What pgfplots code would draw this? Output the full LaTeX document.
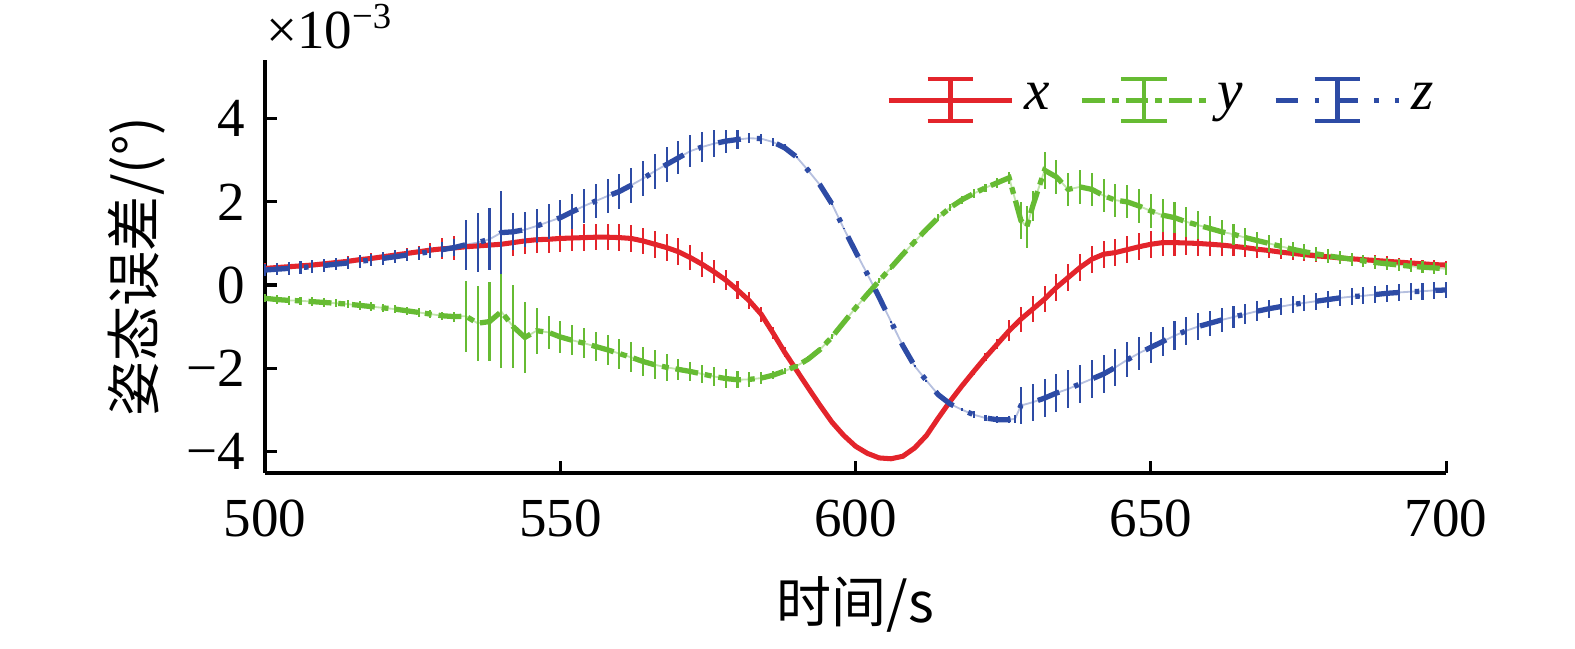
\documentclass[border=0pt]{standalone}
\usepackage{pgfplots}
\pgfplotsset{compat=1.18}
\usepackage{pgfplotstable}
\usepackage{fontspec}
\setmainfont{Liberation Serif}
\newfontfamily\cjk{Noto Sans CJK SC}
\definecolor{cx}{RGB}{227,36,43}
\definecolor{cy}{RGB}{102,187,51}
\definecolor{cz}{RGB}{45,75,165}

\pgfplotstableread{
t v e
500 0.40 0.12
502 0.42 0.12
504 0.44 0.12
506 0.46 0.12
508 0.48 0.12
510 0.51 0.12
512 0.54 0.12
514 0.57 0.12
516 0.61 0.12
518 0.64 0.12
520 0.68 0.12
522 0.72 0.12
524 0.76 0.12
526 0.80 0.14
528 0.84 0.16
530 0.87 0.25
532 0.89 0.30
534 0.92 0.32
536 0.94 0.32
538 0.96 0.32
540 0.98 0.32
542 1.02 0.32
544 1.06 0.32
546 1.09 0.32
548 1.10 0.32
550 1.12 0.32
552 1.13 0.32
554 1.14 0.32
556 1.15 0.32
558 1.15 0.32
560 1.14 0.32
562 1.12 0.32
564 1.06 0.32
566 0.98 0.32
568 0.90 0.32
570 0.80 0.32
572 0.66 0.30
574 0.50 0.30
576 0.32 0.28
578 0.12 0.25
580 -0.12 0.22
582 -0.38 0.20
584 -0.70 0.18
586 -1.15 0.15
588 -1.62 0.12
590 -2.05 0.08
592 -2.48 0.05
594 -2.90 0.04
596 -3.30 0.04
598 -3.62 0.04
600 -3.88 0.04
602 -4.05 0.04
604 -4.16 0.04
606 -4.18 0.04
608 -4.12 0.04
610 -3.92 0.04
612 -3.62 0.05
614 -3.20 0.06
616 -2.80 0.06
618 -2.43 0.08
620 -2.08 0.08
622 -1.74 0.10
624 -1.42 0.12
626 -1.10 0.25
628 -0.82 0.30
630 -0.58 0.32
632 -0.34 0.32
634 -0.06 0.32
636 0.18 0.32
638 0.42 0.32
640 0.62 0.32
642 0.74 0.32
644 0.78 0.32
646 0.85 0.32
648 0.92 0.32
650 0.98 0.32
652 1.02 0.32
654 1.02 0.32
656 1.01 0.30
658 1.00 0.30
660 0.98 0.28
662 0.96 0.26
664 0.93 0.24
666 0.90 0.22
668 0.86 0.20
670 0.83 0.18
672 0.79 0.16
674 0.76 0.15
676 0.73 0.15
678 0.70 0.14
680 0.68 0.14
682 0.65 0.13
684 0.63 0.13
686 0.61 0.12
688 0.59 0.12
690 0.57 0.12
692 0.55 0.11
694 0.53 0.11
696 0.51 0.10
698 0.49 0.10
700 0.48 0.10
}\tabx

\pgfplotstableread{
t v e
500 -0.32 0.10
502 -0.35 0.10
504 -0.37 0.10
506 -0.38 0.10
508 -0.40 0.10
510 -0.42 0.10
512 -0.44 0.10
514 -0.46 0.10
516 -0.49 0.10
518 -0.52 0.10
520 -0.55 0.10
522 -0.58 0.10
524 -0.62 0.10
526 -0.66 0.10
528 -0.70 0.10
530 -0.74 0.10
532 -0.76 0.12
534 -0.75 0.85
536 -0.92 0.90
538 -0.88 0.95
540 -0.64 1.35
542 -1.00 1.00
544 -1.26 0.85
546 -1.10 0.55
548 -1.14 0.40
550 -1.25 0.38
552 -1.33 0.36
554 -1.40 0.36
556 -1.48 0.36
558 -1.56 0.36
560 -1.65 0.36
562 -1.74 0.36
564 -1.84 0.36
566 -1.92 0.35
568 -1.98 0.32
570 -2.03 0.25
572 -2.08 0.22
574 -2.14 0.22
576 -2.20 0.22
578 -2.25 0.22
580 -2.28 0.20
582 -2.27 0.18
584 -2.24 0.15
586 -2.17 0.10
588 -2.07 0.08
590 -1.95 0.06
592 -1.78 0.06
594 -1.55 0.06
596 -1.25 0.06
598 -0.90 0.06
600 -0.55 0.06
602 -0.22 0.06
604 0.10 0.06
606 0.42 0.06
608 0.74 0.06
610 1.04 0.06
612 1.34 0.06
614 1.62 0.08
616 1.86 0.08
618 2.05 0.10
620 2.20 0.10
622 2.34 0.10
624 2.46 0.12
626 2.58 0.15
628 1.55 0.45
629 1.40 0.50
630 1.90 0.35
632 2.76 0.45
634 2.60 0.40
636 2.30 0.40
638 2.36 0.40
640 2.30 0.40
642 2.15 0.40
644 2.04 0.40
646 2.00 0.40
648 1.90 0.40
650 1.78 0.40
652 1.68 0.40
654 1.62 0.38
656 1.52 0.36
658 1.44 0.34
660 1.36 0.30
662 1.28 0.28
664 1.22 0.25
666 1.14 0.22
668 1.07 0.20
670 1.00 0.20
672 0.93 0.20
674 0.86 0.18
676 0.80 0.18
678 0.75 0.17
680 0.70 0.17
682 0.66 0.16
684 0.62 0.16
686 0.58 0.15
688 0.54 0.15
690 0.51 0.15
692 0.48 0.14
694 0.45 0.14
696 0.43 0.14
698 0.41 0.14
700 0.39 0.14
}\taby

\pgfplotstableread{
t v e
500 0.36 0.15
502 0.38 0.15
504 0.40 0.15
506 0.42 0.15
508 0.44 0.15
510 0.47 0.15
512 0.50 0.15
514 0.53 0.15
516 0.57 0.15
518 0.60 0.15
520 0.64 0.15
522 0.68 0.15
524 0.72 0.15
526 0.76 0.15
528 0.80 0.15
530 0.85 0.18
532 0.90 0.20
534 0.97 0.60
536 1.02 0.70
538 1.10 0.75
540 1.26 1.00
542 1.28 0.45
544 1.33 0.42
546 1.42 0.42
548 1.52 0.42
550 1.62 0.42
552 1.76 0.42
554 1.90 0.42
556 2.02 0.42
558 2.14 0.42
560 2.25 0.42
562 2.40 0.42
564 2.56 0.42
566 2.74 0.42
568 2.90 0.42
570 3.06 0.40
572 3.22 0.38
574 3.32 0.35
576 3.40 0.32
578 3.46 0.28
580 3.50 0.22
582 3.53 0.12
584 3.52 0.12
586 3.44 0.10
588 3.30 0.08
590 3.08 0.03
592 2.75 0.02
594 2.40 0.02
596 1.95 0.02
598 1.36 0.02
600 0.80 0.02
602 0.26 0.02
604 -0.30 0.02
606 -0.88 0.02
608 -1.46 0.02
610 -1.95 0.02
612 -2.30 0.02
614 -2.64 0.02
616 -2.86 0.02
618 -3.00 0.04
620 -3.12 0.08
622 -3.20 0.08
624 -3.24 0.08
626 -3.24 0.08
627 -3.22 0.10
628 -2.90 0.45
630 -2.82 0.45
632 -2.72 0.45
634 -2.60 0.45
636 -2.50 0.45
638 -2.38 0.45
640 -2.26 0.45
642 -2.14 0.45
644 -1.98 0.45
646 -1.80 0.42
648 -1.64 0.40
650 -1.50 0.38
652 -1.36 0.36
654 -1.22 0.35
656 -1.10 0.34
658 -1.00 0.32
660 -0.92 0.30
662 -0.84 0.28
664 -0.77 0.26
666 -0.70 0.25
668 -0.63 0.24
670 -0.57 0.22
672 -0.52 0.21
674 -0.47 0.20
676 -0.43 0.20
678 -0.39 0.20
680 -0.35 0.20
682 -0.31 0.20
684 -0.28 0.20
686 -0.26 0.20
688 -0.23 0.20
690 -0.20 0.20
692 -0.18 0.20
694 -0.16 0.20
696 -0.15 0.20
698 -0.13 0.20
700 -0.12 0.20
}\tabz

\begin{document}
\begin{tikzpicture}
\begin{axis}[
  name=ax,
  scale only axis,
  width=257.5pt, height=90pt,
  xmin=500, xmax=700, ymin=-4.52, ymax=5.41,
  axis x line*=bottom, axis y line*=left,
  axis line style={line width=0.9pt, black},
  tick align=inside,
  major tick length=2.6pt,
  tick style={line width=0.7pt, black},
  xtick={500,550,600,650,700},
  xticklabels={500,550,600,650,700},
  ytick={-4,-2,0,2,4},
  yticklabels={−4,−2,0,2,4},
  scaled ticks=false,
  ticklabel style={font=\fontsize{12}{14}\selectfont},
  xticklabel style={yshift=-2.3pt},
  yticklabel style={xshift=-0.8pt},
  xlabel={\cjk 时间/s},
  ylabel={\cjk 姿态误差/(°)},
  label style={font=\fontsize{12}{14}\selectfont},
  xlabel style={at={(axis description cs:0.5,-0.3196)}, anchor=center},
  ylabel style={at={(axis description cs:-0.1084,0.5)}, anchor=center},
  clip=false,
  legend columns=3,
  legend style={draw=none, fill=none, at={(axis description cs:0.525,0.903)}, anchor=west,
    inner sep=0pt, font=\fontsize{12.5}{14}\selectfont,
    /tikz/every even column/.append style={column sep=4.5pt}},
  legend cell align=left,
  legend image code/.code={
    \draw[#1] (0pt,0pt) -- (27pt,0pt);
    \draw[#1, solid, line width=0.9pt] (13.5pt,-4.6pt) -- (13.5pt,4.6pt)
      (8.5pt,-4.6pt) -- (18.5pt,-4.6pt) (8.5pt,4.6pt) -- (18.5pt,4.6pt);
  },
  error bars/y dir=both, error bars/y explicit,
  error bars/error mark=none,
]
% light under-lines
\addplot[forget plot, cy!40, line width=0.4pt, solid] table[x=t,y=v] {\taby};
\addplot[forget plot, cz!35, line width=0.4pt, solid] table[x=t,y=v] {\tabz};

\addplot[cx, line width=1.1pt, solid,
  error bars/error bar style={line width=0.45pt, solid, cx}]
  table[x=t,y=v,y error=e] {\tabx};
\addlegendentry{\textit{x}}
\addplot[cy, line width=1.15pt, dash pattern=on 5pt off 1.5pt on 1.5pt off 1.5pt,
  error bars/error bar style={line width=0.45pt, solid, cy}]
  table[x=t,y=v,y error=e] {\taby};
\addlegendentry{\textit{y}}
\addplot[cz, line width=1.15pt, dash pattern=on 5pt off 3.5pt on 1pt off 3.5pt,
  error bars/error bar style={line width=0.45pt, solid, cz}]
  table[x=t,y=v,y error=e] {\tabz};
\addlegendentry{\textit{z}}

\node[anchor=base west, inner sep=0pt, font=\fontsize{12}{14}\selectfont]
  at ([yshift=2.6pt]axis description cs:0,1) {×10\textsuperscript{−3}};
\end{axis}
\path[use as bounding box] ([xshift=-57.8pt, yshift=-36.6pt]ax.south west)
  rectangle ([xshift=28.1pt, yshift=13.1pt]ax.north east);
\end{tikzpicture}
\end{document}
